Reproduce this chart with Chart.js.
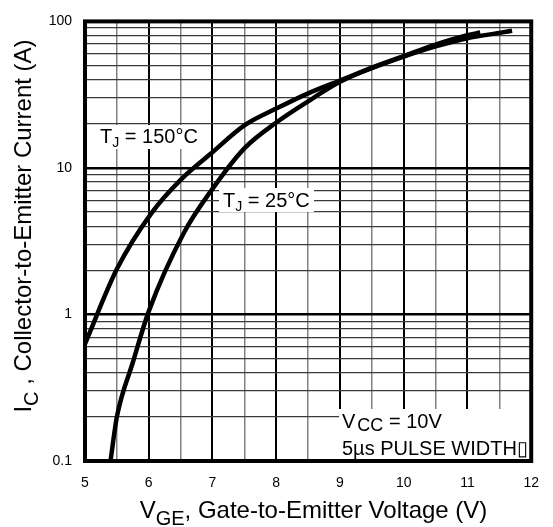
<!DOCTYPE html>
<html><head><meta charset="utf-8">
<script src="https://cdn.jsdelivr.net/npm/chart.js@4.4.1/dist/chart.umd.min.js"></script>
<style>html,body{margin:0;padding:0;background:#fff}#wrap{width:553px;height:527px}</style>
</head><body><div id="wrap"><canvas id="c" width="553" height="527"></canvas></div>
<script>
// ---- data ----
const vge150 = [5, 5.5, 6.04, 6.5, 7, 7.5, 8, 8.5, 9, 9.5, 10, 10.5, 11, 11.5, 11.7];
const ic150  = [0.63, 2.04, 4.9, 8.3, 12.8, 19.5, 25.4, 32.3, 39.5, 48, 57.5, 67.5, 76.8, 83.5, 86.4];
const vge25  = [5.4, 5.5, 5.75, 6, 6.55, 7, 7.5, 8, 8.5, 9, 9.5, 10, 10.5, 11, 11.2];
const ic25   = [0.1, 0.2, 0.47, 1.05, 3.6, 7.2, 13.6, 20.4, 28.5, 38.7, 48.4, 58, 69.5, 80.5, 84];
const yTicks = [0.1,0.2,0.3,0.4,0.5,0.6,0.7,0.8,0.9,1,2,3,4,5,6,7,8,9,10,20,30,40,50,60,70,80,90,100];
const yTickLabels = {'0.1':'0.1','1':'1','10':'10','100':'100'};
const xTickLabels = ['5','6','7','8','9','10','11','12'];

const FONT = '"Liberation Sans", Arial, Helvetica, sans-serif';
Chart.defaults.font.family = FONT;
Chart.defaults.color = '#000';

const isDecade = v => Math.abs(Math.log10(v) - Math.round(Math.log10(v))) < 1e-6;
const toPts = (xs, ys) => xs.map((x, i) => ({x, y: ys[i]}));

function richWidth(ctx, parts, size) {
  let w = 0;
  for (const p of parts) {
    ctx.font = (p.size || (p.sub ? size * 0.75 : size)) + 'px ' + FONT;
    w += ctx.measureText(p.t).width + (p.dx || 0);
  }
  return w;
}
function drawRich(ctx, parts, x, y, size) {
  let cx = x;
  for (const p of parts) {
    ctx.font = (p.size || (p.sub ? size * 0.75 : size)) + 'px ' + FONT;
    cx += (p.dx || 0);
    ctx.fillText(p.t, cx, y + (p.dy || (p.sub ? size * 0.25 : 0)));
    cx += ctx.measureText(p.t).width;
  }
}

const decor = {
  id: 'decor',
  beforeDatasetsDraw(chart) {
    const ctx = chart.ctx;
    ctx.save();
    ctx.fillStyle = '#fff';
    ctx.fillRect(95, 125, 106, 24);
    ctx.fillRect(219, 188, 95, 24);
    ctx.fillRect(339, 409, 198, 50);
    ctx.restore();
  },
  afterDatasetsDraw(chart) {
    const ctx = chart.ctx;
    const a = chart.chartArea;
    ctx.save();
    ctx.fillStyle = '#000';
    ctx.textBaseline = 'alphabetic';
    ctx.textAlign = 'left';
    drawRich(ctx, [{t:'T'},{t:'J',sub:true,size:14,dy:4},{t:' = 150°C'}], 100, 143, 20);
    drawRich(ctx, [{t:'T'},{t:'J',sub:true,size:14,dy:4},{t:' = 25°C'}], 223, 207, 20);
    drawRich(ctx, [{t:'V'},{t:'CC',sub:true,size:18,dx:2,dy:3},{t:' = 10V'}], 342, 428, 20);
    drawRich(ctx, [{t:'5µs PULSE WIDTH▯'}], 342, 455, 20);

    // frame
    ctx.lineWidth = 4;
    ctx.strokeStyle = '#000';
    ctx.strokeRect(a.left, a.top, a.right - a.left, a.bottom - a.top);

    // x title
    const xParts = [{t:'V'},{t:'GE',sub:true,size:20,dy:7},{t:', Gate-to-Emitter Voltage (V)'}];
    const xw = richWidth(ctx, xParts, 24);
    drawRich(ctx, xParts, 313.5 - xw / 2, 518, 24);

    // y title
    const yParts = [{t:'I'},{t:'C',sub:true,size:20,dy:7},{t:' , Collector-to-Emitter Current (A)'}];
    const yw = richWidth(ctx, yParts, 24);
    ctx.save();
    ctx.translate(31, 226);
    ctx.rotate(-Math.PI / 2);
    drawRich(ctx, yParts, -yw / 2, 0, 24);
    ctx.restore();
    ctx.restore();
  }
};

new Chart(document.getElementById('c'), {
  type: 'line',
  data: {
    datasets: [
      {label: 'TJ = 150°C', data: toPts(vge150, ic150), borderColor: '#000', borderWidth: 4.5, pointRadius: 0, cubicInterpolationMode: 'monotone', fill: false},
      {label: 'TJ = 25°C', data: toPts(vge25, ic25), borderColor: '#000', borderWidth: 4.5, pointRadius: 0, cubicInterpolationMode: 'monotone', fill: false}
    ]
  },
  options: {
    responsive: false,
    animation: false,
    layout: {padding: {left: 0, top: 13, right: 14, bottom: 0}},
    plugins: {legend: {display: false}, tooltip: {enabled: false}},
    scales: {
      x: {
        type: 'linear', min: 5, max: 12,
        afterFit(s) { s.height = 66; },
        ticks: {
          stepSize: 0.5, autoSkip: false, maxRotation: 0, padding: 14,
          font: {size: 14}, color: '#000',
          callback: v => Number.isInteger(v) ? xTickLabels[v - 5] : ''
        },
        grid: {
          drawTicks: false,
          color: c => (c.tick && Number.isInteger(c.tick.value)) ? '#000' : '#808080',
          lineWidth: c => (c.tick && Number.isInteger(c.tick.value)) ? 2 : 1.5
        },
        border: {display: false}
      },
      y: {
        type: 'logarithmic', min: 0.1, max: 100,
        afterFit(s) { s.width = 85; },
        afterBuildTicks(s) { s.ticks = yTicks.map(v => ({value: v})); },
        ticks: {
          autoSkip: false, padding: 13, font: {size: 14}, color: '#000',
          callback: v => isDecade(v) ? (yTickLabels[String(v)] || String(v)) : ''
        },
        grid: {
          drawTicks: false,
          color: c => (c.tick && isDecade(c.tick.value)) ? '#000' : '#3a3a3a',
          lineWidth: c => (c.tick && isDecade(c.tick.value)) ? 2.5 : 1.3
        },
        border: {display: false}
      }
    }
  },
  plugins: [decor]
});
</script>
</body></html>
